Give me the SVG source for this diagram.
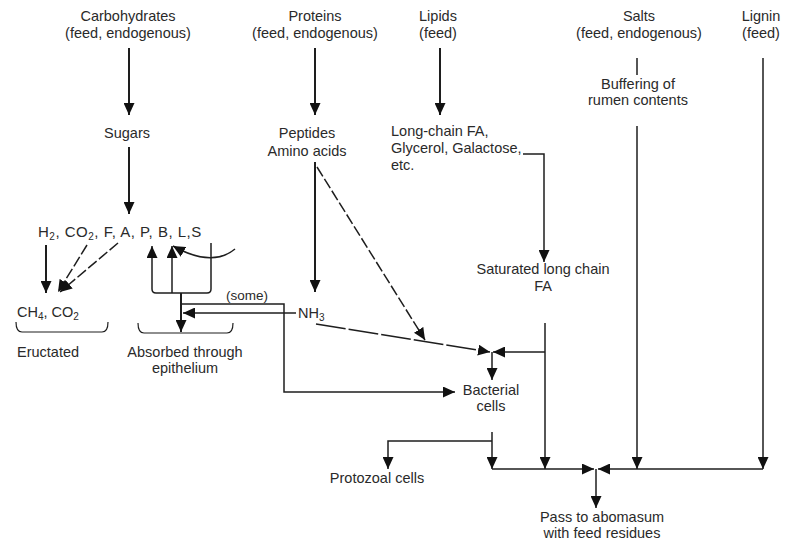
<svg xmlns="http://www.w3.org/2000/svg" width="785" height="544" viewBox="0 0 785 544">
<style>
text{font-family:"Liberation Sans",Arial,sans-serif;font-size:14.5px;fill:#2a2a2a}
.m{text-anchor:middle}
.ln{fill:none;stroke:#1e1e1e;stroke-width:1.5}
.th{stroke-width:2}
.ar{marker-end:url(#ah)}
.ds{stroke-dasharray:11 3}
.sub{font-size:10px}
</style>
<defs>
<marker id="ah" markerUnits="userSpaceOnUse" markerWidth="12" markerHeight="11" viewBox="0 0 12 11" refX="12" refY="5.5" orient="auto"><path d="M0,0L12,5.5L0,11z" fill="#111"/></marker>
</defs>
<rect width="785" height="544" fill="#fff"/>
<g id="carbohydrates"><text class="m" x="128" y="21">Carbohydrates</text><text class="m" x="128" y="38">(feed, endogenous)</text></g>
<g id="proteins"><text class="m" x="315" y="21">Proteins</text><text class="m" x="315" y="38">(feed, endogenous)</text></g>
<g id="lipids"><text class="m" x="438" y="21">Lipids</text><text class="m" x="438" y="38">(feed)</text></g>
<g id="salts"><text class="m" x="639" y="21">Salts</text><text class="m" x="639" y="38">(feed, endogenous)</text></g>
<g id="lignin"><text class="m" x="761" y="21">Lignin</text><text class="m" x="761" y="38">(feed)</text></g>
<g id="sugars"><text class="m" x="127" y="138">Sugars</text></g>
<g id="peptides"><text class="m" x="307" y="138">Peptides</text><text class="m" x="307" y="156">Amino acids</text></g>
<g id="lcfa"><text x="391" y="136">Long-chain FA,</text><text x="391" y="153">Glycerol, Galactose,</text><text x="391" y="170">etc.</text></g>
<g id="buffering"><text class="m" x="638" y="89">Buffering of</text><text class="m" x="638" y="105">rumen contents</text></g>
<g id="vfa"><text x="38" y="237" style="font-size:15px;letter-spacing:0.5px">H<tspan class="sub" dy="3">2</tspan><tspan dy="-3">, CO</tspan><tspan class="sub" dy="3">2</tspan><tspan dy="-3">, F, A, P, B, L,S</tspan></text></g>
<g id="ch4"><text x="17" y="317">CH<tspan class="sub" dy="3">4</tspan><tspan dy="-3">, CO</tspan><tspan class="sub" dy="3">2</tspan></text><path class="ln" style="stroke-width:1.2" d="M16,322Q16,332 22,332H102Q108,332 108,322"/></g>
<g id="eructated"><text x="17" y="357">Eructated</text></g>
<g id="absorbed"><path class="ln" style="stroke-width:1.2" d="M138,323Q138,333 144,333H227Q233,333 233,323"/><text class="m" x="185" y="357">Absorbed through</text><text class="m" x="185" y="373">epithelium</text></g>
<g id="some"><text class="m" x="247" y="300" style="font-size:13.5px">(some)</text></g>
<g id="nh3"><text x="298" y="318">NH<tspan class="sub" dy="3">3</tspan></text></g>
<g id="satfa"><text class="m" x="543" y="274">Saturated long chain</text><text class="m" x="543" y="291">FA</text></g>
<g id="bacterial"><text class="m" x="491" y="395">Bacterial</text><text class="m" x="491" y="411">cells</text></g>
<g id="protozoal"><text class="m" x="377" y="483">Protozoal cells</text></g>
<g id="abomasum"><text class="m" x="602" y="522">Pass to abomasum</text><text class="m" x="602" y="538">with feed residues</text></g>
<g id="connectors">
<path class="ln th ar" d="M129,48V115"/>
<path class="ln th ar" d="M129,147V214"/>
<path class="ln th ar" d="M315,48V115"/>
<path class="ln th ar" d="M315,162V292"/>
<path class="ln th ar" d="M440,48V115"/>
<path class="ln ar" d="M523,154H544V262"/>
<path class="ln" d="M637,58V75"/>
<path class="ln ar" d="M637,126V469"/>
<path class="ln ar" d="M763,58V469"/>
<path class="ln" d="M545,323V352"/>
<path class="ln ar" d="M545,352V469"/>
<path class="ln ar" d="M545,352H493"/>
<path class="ln ds ar" d="M317,167L425,340"/>
<path class="ln ar" style="stroke-dasharray:30 3" d="M316,324L490,352"/>
<path class="ln ar" d="M492,352V380"/>
<path class="ln th ar" d="M46,245V293"/>
<path class="ln ds ar" d="M87,245L58,292"/>
<path class="ln ds ar" d="M118,243L60,292"/>
<path class="ln ar" d="M181,293H156Q152,293 152,289V246"/>
<path class="ln ar" d="M172,293V246"/>
<path class="ln" d="M211,243V289Q211,293 207,293H181"/>
<path class="ln th ar" d="M181,293V332"/>
<path class="ln ar" d="M235,249Q212,268 173,246"/>
<path class="ln ar" d="M181,304H284V392H455"/>
<path class="ln ar" d="M296,313H183"/>
<path class="ln ar" d="M492,432V469"/>
<path class="ln ar" d="M492,441H388V469"/>
<path class="ln ar" d="M492,469H594"/>
<path class="ln ar" d="M763,469H598"/>
<path class="ln ar" d="M596,469V508"/>
</g>
</svg>
